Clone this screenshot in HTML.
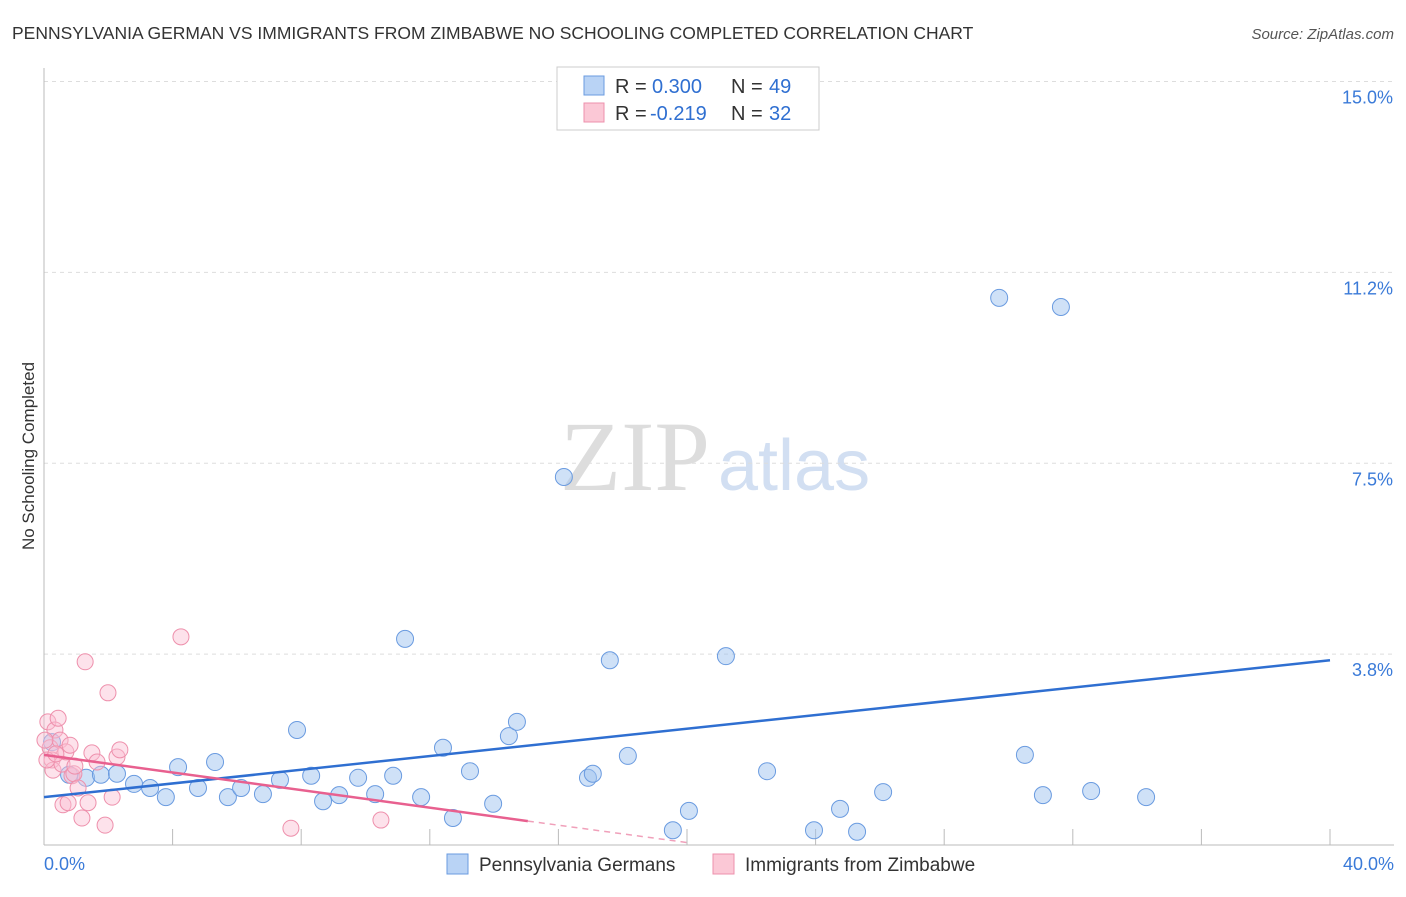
<!DOCTYPE html>
<html><head><meta charset="utf-8"><style>
body{margin:0;background:#fff;font-family:"Liberation Sans",sans-serif}
</style></head><body>
<svg id="chart" width="1406" height="892" xmlns="http://www.w3.org/2000/svg">
<text x="12" y="39" font-size="17.5" fill="#333">PENNSYLVANIA GERMAN VS IMMIGRANTS FROM ZIMBABWE NO SCHOOLING COMPLETED CORRELATION CHART</text>
<text x="1394" y="39" font-size="15" fill="#555" font-style="italic" text-anchor="end">Source: ZipAtlas.com</text>
<text x="34" y="456" font-size="17" fill="#333" transform="rotate(-90 34 456)" text-anchor="middle">No Schooling Completed</text>
<g><text x="635" y="490" font-size="100" fill="#ddd" font-family="Liberation Serif,serif" text-anchor="middle">ZIP</text><text x="718" y="490" font-size="72" fill="#d2dff2">atlas</text></g>
<g id="grid"></g><g id="axes"></g><g id="marks"></g>
<g>
<rect x="557" y="67" width="262" height="63" fill="#fff" stroke="#ccc"/>
<rect x="584" y="76" width="20" height="19" fill="#b9d3f5" stroke="#6a9be0"/>
<rect x="584" y="103" width="20" height="19" fill="#fbc8d6" stroke="#ee90ac"/>
<g font-size="20" fill="#333">
<text x="615" y="93">R =</text><text x="652" y="93" fill="#2f6fd1">0.300</text><text x="731" y="93">N =</text><text x="769" y="93" fill="#2f6fd1">49</text>
<text x="615" y="120">R =</text><text x="650" y="120" fill="#2f6fd1">-0.219</text><text x="731" y="120">N =</text><text x="769" y="120" fill="#2f6fd1">32</text>
</g>
</g>
<g>
<rect x="447" y="854" width="21" height="20" fill="#b9d3f5" stroke="#6a9be0"/>
<text x="479" y="871" font-size="19" fill="#333">Pennsylvania Germans</text>
<rect x="713" y="854" width="21" height="20" fill="#fbc8d6" stroke="#ee90ac"/>
<text x="745" y="871" font-size="19" fill="#333">Immigrants from Zimbabwe</text>
</g>
</svg>
<script>
const yTicks=[3.75,7.5,11.25,15];
const yTickLabels=["3.8%","7.5%","11.2%","15.0%"];
const xTicks=[0,4,8,12,16,20,24,28,32,36,40];
const blueX=[0.25,0.78,1.31,1.77,2.27,2.8,3.3,3.79,4.17,4.79,5.32,5.72,6.13,6.81,7.34,7.87,8.31,8.68,9.18,9.77,10.3,10.86,11.23,11.73,12.41,12.72,13.25,13.97,14.46,14.71,16.17,16.92,17.07,17.6,18.16,19.56,20.06,21.21,22.49,23.95,24.76,25.29,26.1,29.71,30.51,31.07,31.63,32.57,34.28];
const blueY=[2.02,1.38,1.32,1.38,1.4,1.2,1.12,0.94,1.53,1.12,1.63,0.94,1.12,1.0,1.28,2.26,1.36,0.86,0.98,1.32,1.0,1.36,4.05,0.94,1.91,0.53,1.45,0.81,2.14,2.42,7.23,1.32,1.4,3.63,1.75,0.29,0.67,3.71,1.45,0.29,0.71,0.26,1.04,10.75,1.77,0.98,10.57,1.06,0.94];
const pinkX=[0.12,0.19,0.25,0.28,0.34,0.44,0.5,0.56,0.59,0.68,0.75,0.81,0.87,0.93,1.06,1.18,1.28,1.37,1.49,1.65,1.9,1.99,2.12,2.27,2.36,4.26,7.68,10.48,0.09,0.37,0.96,0.03];
const pinkY=[2.42,1.91,1.67,1.47,2.26,2.49,2.06,1.59,0.79,1.83,0.83,1.96,1.36,1.4,1.12,0.53,3.6,0.83,1.81,1.63,0.39,2.99,0.94,1.73,1.87,4.09,0.33,0.49,1.67,1.79,1.55,2.06];
const blueLine=[0,0.94,40,3.63];
const pinkLine=[0,1.77,15.05,0.47];
const pinkDash=[20.1,0.04];
const NS="http://www.w3.org/2000/svg";
const X=v=>44+v*32.15, Y=v=>845-v*50.9;
function mk(t,a,p){const e=document.createElementNS(NS,t);for(const k in a)e.setAttribute(k,a[k]);document.getElementById(p).appendChild(e);return e;}
yTicks.forEach((t,i)=>{
 const g=mk('line',{x1:44,x2:1394,y1:Y(t),y2:Y(t),stroke:'#ddd','stroke-dasharray':'4,4'},'grid');
 
 
 const l=mk('text',{x:1393,y:Y(t)+22,'font-size':18,fill:'#3a7ad8','text-anchor':'end'},'axes');l.textContent=yTickLabels[i];
 
 
});
const ax=mk('line',{x1:44,x2:1394,y1:845,y2:845,stroke:'#bbb'},'axes');


const ay=mk('line',{x1:44,x2:44,y1:68,y2:845,stroke:'#bbb'},'axes');


xTicks.forEach(t=>{const e=mk('line',{x1:X(t),x2:X(t),y1:829,y2:845,stroke:'#bbb'},'axes');
 
 });
[[xTicks[0],'0.0%','start',44],[xTicks[10],'40.0%','end',1394]].forEach(a=>{const e=mk('text',{x:a[3],y:870,'font-size':18,fill:'#3a7ad8','text-anchor':a[2]},'axes');e.textContent=a[1];
 
 });
blueX.forEach((v,i)=>{const c=mk('circle',{cx:X(v),cy:Y(blueY[i]),r:8.5,fill:'rgba(160,195,240,0.5)',stroke:'#6a9be0','stroke-width':1},'marks');
 
 });
pinkX.forEach((v,i)=>{const c=mk('circle',{cx:X(v),cy:Y(pinkY[i]),r:8,fill:'rgba(250,190,210,0.45)',stroke:'#ee90ac','stroke-width':1},'marks');
 
 });
const bl=mk('line',{x1:X(blueLine[0]),y1:Y(blueLine[1]),x2:X(blueLine[2]),y2:Y(blueLine[3]),stroke:'#2f6fd1','stroke-width':2.5},'marks');


const pl=mk('line',{x1:X(pinkLine[0]),y1:Y(pinkLine[1]),x2:X(pinkLine[2]),y2:Y(pinkLine[3]),stroke:'#e8608f','stroke-width':2.5},'marks');


const pd=mk('line',{x1:X(pinkLine[2]),y1:Y(pinkLine[3]),x2:X(pinkDash[0]),y2:Y(pinkDash[1]),stroke:'#f0a0ba','stroke-width':1.5,'stroke-dasharray':'6,5'},'marks');


</script>
</body></html>
